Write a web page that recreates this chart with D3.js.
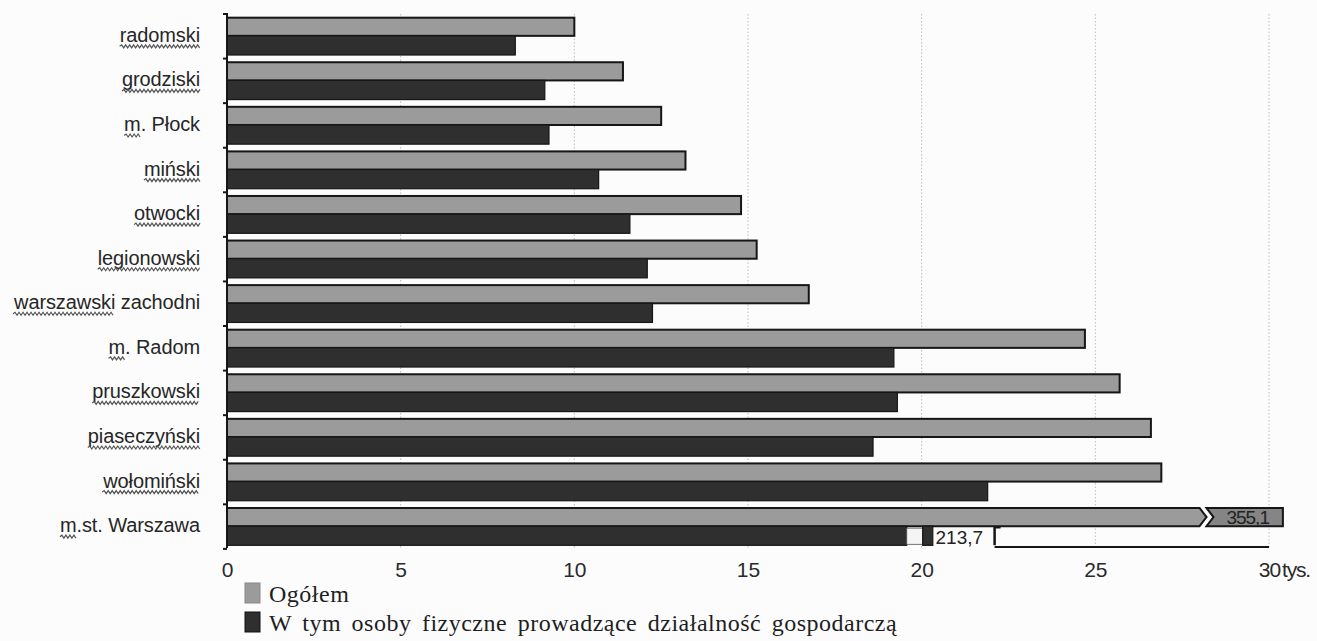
<!DOCTYPE html>
<html>
<head>
<meta charset="utf-8">
<script src="https://cdn.jsdelivr.net/npm/d3@7"></script>
<style>
  body { margin: 0; background: #fcfcfd; }
  svg { display: block; }
</style>
</head>
<body>
<div id="chart"></div>
<script>
// powiaty / miasta
var categories = ["radomski", "grodziski", "m. Płock", "miński", "otwocki", "legionowski",
  "warszawski zachodni", "m. Radom", "pruszkowski", "piaseczyński", "wołomiński", "m.st. Warszawa"];
// tys.
var ogolem = [10.0, 11.4, 12.5, 13.2, 14.8, 15.25, 16.75, 24.7, 25.7, 26.6, 26.9, 355.1];
var osobyFizyczne = [8.3, 9.15, 9.27, 10.7, 11.6, 12.1, 12.25, 19.2, 19.3, 18.6, 21.9, 213.7];
var xTicks = [0, 5, 10, 15, 20, 25, 30];
var legendLabels = ["Ogółem", "W tym osoby fizyczne prowadzące działalność gospodarczą"];
// underlined (spell-check) part of each label
var squiggled = ["radomski", "grodziski", "m", "miński", "otwocki", "legionowski",
  "warszawski", "m", "pruszkowski", "piaseczyński", "wołomiński", "m"];

var W = 1317, H = 641;
var grayFill = "#9b9b9b", darkFill = "#2f2f2f", edge = "#161616";

var svg = d3.select("#chart").append("svg")
  .attr("width", W).attr("height", H);

var x = d3.scaleLinear().domain([0, 30]).range([227, 1269]);
var y = d3.scaleBand().domain(categories).range([14, 548])
  .paddingInner(0.14).paddingOuter(0.06);
var bw = y.bandwidth();

// gridlines
svg.append("g").selectAll("line")
  .data(xTicks.slice(1))
  .enter().append("line")
  .attr("x1", d => x(d)).attr("x2", d => x(d))
  .attr("y1", 14).attr("y2", 548)
  .attr("stroke", "#b9bcc2")
  .attr("stroke-width", 1)
  .attr("stroke-dasharray", "1.5,2");

var maxX = x.domain()[1];
var rows = categories.map(function(c, i) {
  return { cat: c, a: ogolem[i], b: osobyFizyczne[i] };
});

var bars = svg.append("g");

// Ogółem
rows.forEach(function(r) {
  var y0 = y(r.cat) + 1, h = bw / 2 - 1;
  if (r.a <= maxX) {
    bars.append("rect")
      .attr("x", x(0)).attr("y", y0)
      .attr("width", x(r.a) - x(0)).attr("height", h)
      .attr("fill", grayFill).attr("stroke", edge).attr("stroke-width", 2);
  } else {
    // broken bar: arrow end, then a notched stub carrying the value
    var xb = x(28.0), tip = 7, xs = x(28.2), xe = x(30.4);
    bars.append("path")
      .attr("d", "M" + x(0) + "," + y0 + "H" + xb + "L" + (xb + tip) + "," + (y0 + h / 2) +
        "L" + xb + "," + (y0 + h) + "H" + x(0) + "Z")
      .attr("fill", grayFill).attr("stroke", edge).attr("stroke-width", 2);
    bars.append("path")
      .attr("d", "M" + xs + "," + y0 + "H" + xe + "V" + (y0 + h) + "H" + xs +
        "L" + (xs + tip) + "," + (y0 + h / 2) + "Z")
      .attr("fill", "#858585").attr("stroke", edge).attr("stroke-width", 2);
    bars.append("text")
      .attr("x", (xs + xe) / 2 + 3).attr("y", y0 + h / 2 + 7)
      .attr("text-anchor", "middle")
      .style("font-family", "'Liberation Sans', Arial, sans-serif")
      .style("font-size", "19px").style("letter-spacing", "-1px")
      .attr("fill", "#222")
      .text(d3.format(".1f")(r.a).replace(".", ","));
  }
});

// osoby fizyczne
rows.forEach(function(r) {
  var y0 = y(r.cat) + bw / 2, h = bw / 2;
  if (r.b <= maxX) {
    bars.append("rect")
      .attr("x", x(0)).attr("y", y0)
      .attr("width", x(r.b) - x(0)).attr("height", h)
      .attr("fill", darkFill).attr("stroke", edge).attr("stroke-width", 1.2);
  } else {
    bars.append("rect")
      .attr("x", x(0)).attr("y", y0)
      .attr("width", x(19.57) - x(0)).attr("height", h)
      .attr("fill", darkFill).attr("stroke", edge).attr("stroke-width", 1.2);
    bars.append("rect")
      .attr("x", x(19.57)).attr("y", y0 + 2)
      .attr("width", x(20.03) - x(19.57)).attr("height", h - 3)
      .attr("fill", "#f4f4f4").attr("stroke", "#555").attr("stroke-width", 0.8);
    bars.append("rect")
      .attr("x", x(20.03)).attr("y", y0)
      .attr("width", x(20.32) - x(20.03)).attr("height", h)
      .attr("fill", darkFill).attr("stroke", edge).attr("stroke-width", 1.2);
    bars.append("text")
      .attr("x", x(20.4)).attr("y", y0 + h - 1)
      .style("font-family", "'Liberation Sans', Arial, sans-serif")
      .style("font-size", "19px")
      .attr("fill", "#222")
      .text(d3.format(".1f")(r.b).replace(".", ","));
    // bracket where the axis resumes
    var xr = x(22.1);
    bars.append("path")
      .attr("d", "M" + (xr + 6) + "," + (y0 + 1) + "H" + xr + "V" + (y0 + h))
      .attr("fill", "none").attr("stroke", edge).attr("stroke-width", 2.5);
  }
});

// axes lines
var axisY = 547;
svg.append("line")
  .attr("x1", x(0)).attr("x2", x(0)).attr("y1", 13).attr("y2", axisY + 1)
  .attr("stroke", edge).attr("stroke-width", 2);
svg.append("line")
  .attr("x1", x(22.1)).attr("x2", x(30)).attr("y1", axisY).attr("y2", axisY)
  .attr("stroke", edge).attr("stroke-width", 2);

// category boundary ticks
svg.append("g").selectAll("line")
  .data(d3.range(categories.length + 1))
  .enter().append("line")
  .attr("x1", x(0) - 4).attr("x2", x(0))
  .attr("y1", d => 14 + d * y.step())
  .attr("y2", d => 14 + d * y.step())
  .attr("stroke", edge).attr("stroke-width", 2);

// x axis tick labels
var xAxis = d3.axisBottom(x).tickValues(xTicks).tickSize(0).tickPadding(0);
var gx = svg.append("g").attr("transform", "translate(0," + axisY + ")").call(xAxis);
gx.select(".domain").remove();
gx.selectAll("text")
  .attr("y", 30).attr("dy", 0)
  .style("font-family", "'Liberation Sans', Arial, sans-serif")
  .style("font-size", "21px")
  .attr("fill", "#2a2a2a");
gx.selectAll(".tick").filter(d => d === 30).select("text")
  .attr("x", 0).style("letter-spacing", "-1px");
svg.append("text")
  .attr("x", x(30) + 13).attr("y", axisY + 30)
  .style("font-family", "'Liberation Sans', Arial, sans-serif")
  .style("font-size", "21px").style("letter-spacing", "-1.2px")
  .attr("fill", "#2a2a2a")
  .text("tys.");

// category labels with wavy underline
var labels = svg.append("g");
categories.forEach(function(c, i) {
  var base = y(c) + bw / 2 + 6;
  var t = labels.append("text")
    .attr("x", 200).attr("y", base)
    .attr("text-anchor", "end")
    .style("font-family", "'Liberation Sans', Arial, sans-serif")
    .style("font-size", "20px").style("letter-spacing", "-0.1px")
    .attr("fill", "#262626")
    .text(c);
  var node = t.node();
  var bb = node.getBBox();
  var len = node.getSubStringLength(0, squiggled[i].length);
  var x0 = bb.x, x1 = bb.x + len, yy = base + 4.5;
  var d = "M" + x0 + "," + yy;
  var up = true;
  for (var xx = x0 + 2; xx <= x1; xx += 2) {
    d += "L" + xx + "," + (yy + (up ? -1.5 : 1.5));
    up = !up;
  }
  labels.append("path").attr("d", d)
    .attr("fill", "none").attr("stroke", "#555").attr("stroke-width", 1.2);
});

// legend
var legend = svg.append("g");
[grayFill, darkFill].forEach(function(col, i) {
  var ly = 583 + i * 29;
  legend.append("rect")
    .attr("x", 245).attr("y", ly).attr("width", 15).attr("height", 20)
    .attr("fill", col).attr("stroke", i ? "#111" : "#888").attr("stroke-width", 1);
  legend.append("text")
    .attr("x", 269).attr("y", ly + 19)
    .style("font-family", "'Liberation Serif', 'Times New Roman', serif")
    .style("font-size", "24px").style("word-spacing", "4px").style("letter-spacing", "0.5px")
    .attr("fill", "#1e1e1e")
    .text(legendLabels[i]);
});
</script>
</body>
</html>
